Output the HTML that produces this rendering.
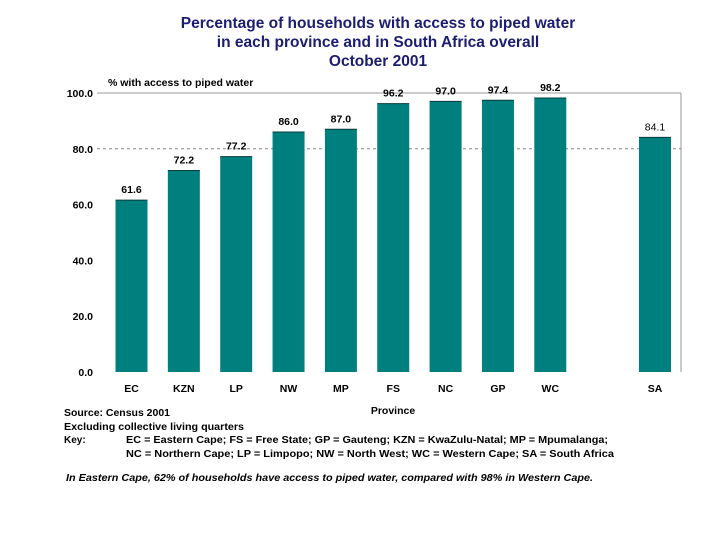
<!DOCTYPE html>
<html><head><meta charset="utf-8"><style>
body{margin:0;background:#fff;width:720px;height:540px;overflow:hidden;font-family:"Liberation Sans",Arial,sans-serif}
</style></head><body>
<svg width="720" height="540" font-family="Liberation Sans, Arial, sans-serif">
<g font-weight="bold" font-size="15.5" fill="#1c1c70" text-anchor="middle">
<text x="378" y="28">Percentage of households with access to piped water</text>
<text x="378" y="47">in each province and in South Africa overall</text>
<text x="378" y="66">October 2001</text>
</g>
<text x="108" y="86" font-size="10.5" font-weight="bold">% with access to piped water</text>
<line x1="97" y1="93" x2="681" y2="93" stroke="#999"/>
<line x1="681" y1="93" x2="681" y2="372" stroke="#999"/>
<g id="grid"></g><g id="bars"></g><g id="labels"></g>
<text x="393" y="414" font-size="10.5" font-weight="bold" text-anchor="middle">Province</text>
<g font-size="10" font-weight="bold">
<text x="64" y="416" textLength="106" lengthAdjust="spacingAndGlyphs">Source: Census 2001</text>
<text x="64" y="430" textLength="180" lengthAdjust="spacingAndGlyphs">Excluding collective living quarters</text>
<text x="64" y="443">Key:</text>
<text x="126" y="443" textLength="482" lengthAdjust="spacingAndGlyphs">EC = Eastern Cape; FS = Free State; GP = Gauteng; KZN = KwaZulu-Natal; MP = Mpumalanga;</text>
<text x="126" y="457" textLength="488" lengthAdjust="spacingAndGlyphs">NC = Northern Cape; LP = Limpopo; NW = North West; WC = Western Cape;  SA = South Africa</text>
<text x="66" y="481" font-style="italic" textLength="527" lengthAdjust="spacingAndGlyphs">In Eastern Cape, 62% of households have access to piped water, compared with 98% in Western Cape.</text>
</g>
</svg>
<script>
const categories=["EC","KZN","LP","NW","MP","FS","NC","GP","WC","","SA"];
const values=[61.6,72.2,77.2,86.0,87.0,96.2,97.0,97.4,98.2,null,84.1];
const yTicks=[0,20,40,60,80,100];
const NS="http://www.w3.org/2000/svg";
const y=v=>372-v*2.79;
const x=i=>131.5+i*52.35;
function mk(t,a,p,txt){const e=document.createElementNS(NS,t);for(const k in a)e.setAttribute(k,a[k]);if(txt!=null)e.textContent=txt;p.appendChild(e);return e;}
const grid=document.getElementById('grid'),bars=document.getElementById('bars'),labels=document.getElementById('labels');
yTicks.forEach(t=>{
 const tl=mk('text',{x:93,y:y(t)+4,'font-size':10.5,'font-weight':'bold','text-anchor':'end'},grid,t.toFixed(1));
 
 
 if(t===80){const g=mk('line',{x1:97,x2:681,y1:y(t),y2:y(t),stroke:'#888','stroke-dasharray':'3,3'},grid);
 
 }
});
categories.forEach((c,i)=>{
 if(c){const l=mk('text',{x:x(i),y:392,'font-size':10.5,'font-weight':'bold','text-anchor':'middle'},labels,c);
 
 }
 const v=values[i];if(v==null)return;
 const b=mk('rect',{x:x(i)-16,y:y(v),width:32,height:372-y(v),fill:'#007f7f'},bars);
 
 
 mk('line',{x1:x(i)-16,x2:x(i)+16,y1:y(v),y2:y(v),stroke:'#0a3a3a','stroke-width':1},bars);
 const vl=mk('text',{x:x(i),y:y(v)-7,'font-size':10.5,'font-weight':c==='SA'?'normal':'bold','text-anchor':'middle'},labels,v.toFixed(1));
 
 
});
</script>
</body></html>
